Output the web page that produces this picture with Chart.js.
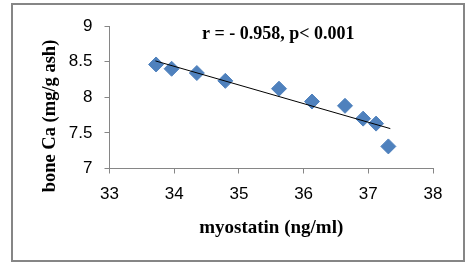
<!DOCTYPE html>
<html>
<head>
<meta charset="utf-8">
<script src="https://cdn.jsdelivr.net/npm/chart.js@4/dist/chart.umd.min.js"></script>
<style>
  html, body { margin: 0; padding: 0; background: #fff; }
  #wrap { width: 471px; height: 268px; position: relative; }
</style>
</head>
<body>
<div id="wrap"><canvas id="c" width="471" height="268"></canvas></div>
<script>
// ---- data ----
const myostatin = [33.72, 33.96, 34.35, 34.79, 35.62, 36.13, 36.64, 36.92, 37.12, 37.31];
const boneCa    = [8.46, 8.40, 8.34, 8.23, 8.12, 7.94, 7.88, 7.70, 7.63, 7.31];
const trendX = [33.71, 37.34];
const trendY = [8.51, 7.56];
const xTicks = [33, 34, 35, 36, 37, 38];
const yTicks = [7, 7.5, 8, 8.5, 9];
const annotationText = 'r = - 0.958, p< 0.001';
const xTitle = 'myostatin (ng/ml)';
const yTitle = 'bone Ca (mg/g ash)';

const points = myostatin.map((x, i) => ({ x: x, y: boneCa[i] }));
const trend = trendX.map((x, i) => ({ x: x, y: trendY[i] }));

const decor = {
  id: 'decor',
  afterDraw(chart) {
    const ctx = chart.ctx;
    const area = chart.chartArea;
    ctx.save();
    // outer frame
    ctx.strokeStyle = '#868686';
    ctx.lineWidth = 2;
    ctx.strokeRect(12, 4, 452, 257);
    // annotation
    ctx.fillStyle = '#000';
    ctx.font = 'bold 18px "Liberation Serif", "Times New Roman", serif';
    ctx.textAlign = 'left';
    ctx.textBaseline = 'middle';
    ctx.fillText(annotationText, 202, 34);
    // x title
    ctx.font = 'bold 19px "Liberation Serif", "Times New Roman", serif';
    ctx.textAlign = 'center';
    ctx.fillText(xTitle, (area.left + area.right) / 2, 228);
    // y title
    ctx.font = 'bold 18.5px "Liberation Serif", "Times New Roman", serif';
    ctx.translate(50, 116);
    ctx.rotate(-Math.PI / 2);
    ctx.fillText(yTitle, 0, 0);
    ctx.restore();
  }
};

new Chart(document.getElementById('c'), {
  type: 'scatter',
  data: {
    datasets: [
      {
        type: 'line',
        data: trend,
        borderColor: '#000',
        borderWidth: 1,
        pointRadius: 0,
        fill: false,
        tension: 0
      },
      {
        data: points,
        pointStyle: 'rectRot',
        pointRadius: 7.5,
        pointHoverRadius: 7.5,
        backgroundColor: '#4F81BD',
        borderColor: '#4F81BD',
        borderWidth: 1
      }
    ]
  },
  options: {
    responsive: false,
    animation: false,
    events: [],
    layout: { padding: { left: 0, top: 26, right: 38, bottom: 0 } },
    plugins: { legend: { display: false }, tooltip: { enabled: false } },
    scales: {
      x: {
        type: 'linear',
        min: xTicks[0],
        max: xTicks[xTicks.length - 1],
        afterBuildTicks: s => { s.ticks = xTicks.map(v => ({ value: v })); },
        afterFit: s => { s.height = 268 - 168.5; },
        grid: { display: true, drawOnChartArea: false, drawTicks: true, tickLength: 5, color: '#868686' },
        border: { color: '#868686', width: 1 },
        ticks: {
          color: '#000',
          padding: 11,
          font: { family: '"Liberation Sans", Arial, sans-serif', size: 17 },
          callback: v => String(v)
        }
      },
      y: {
        type: 'linear',
        min: yTicks[0],
        max: yTicks[yTicks.length - 1],
        afterBuildTicks: s => { s.ticks = yTicks.map(v => ({ value: v })); },
        afterFit: s => { s.width = 109.5; },
        grid: { display: true, drawOnChartArea: false, drawTicks: true, tickLength: 5, color: '#868686' },
        border: { color: '#868686', width: 1 },
        ticks: {
          color: '#000',
          padding: 12,
          font: { family: '"Liberation Sans", Arial, sans-serif', size: 17 },
          callback: v => String(v)
        }
      }
    }
  },
  plugins: [decor]
});
</script>
</body>
</html>
